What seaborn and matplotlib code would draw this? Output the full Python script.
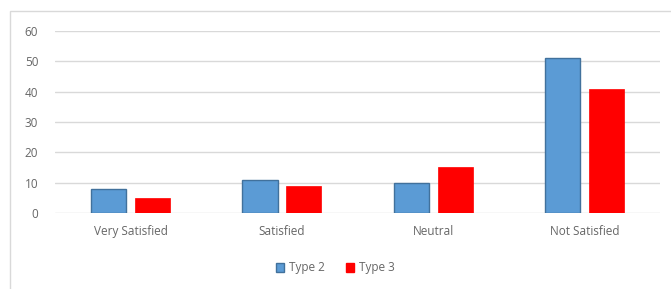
import pandas as pd
import matplotlib.pyplot as plt
import seaborn as sns
from matplotlib.patches import Rectangle, Patch

# --- DATA ---
categories = ["Very Satisfied", "Satisfied", "Neutral", "Not Satisfied"]
type2 = [8, 11, 10, 51]
type3 = [5, 9, 15, 41]
series = ["Type 2", "Type 3"]

df = pd.DataFrame({
    "category": categories * 2,
    "value": type2 + type3,
    "series": [series[0]] * len(categories) + [series[1]] * len(categories),
})

sns.set_style("white")
plt.rcParams["font.family"] = ["Open Sans", "DejaVu Sans"]

fig = plt.figure(figsize=(6.71, 2.89), dpi=100)
ax = fig.add_axes([0.082, 0.263, 0.902, 0.63])

# outer chart frame (only top/left visible in the reference)
fig.patches.append(Rectangle((10 / 671, -0.2), 1.2, 1 - 11 / 289 + 0.2,
                             transform=fig.transFigure, fill=False,
                             edgecolor="#D9D9D9", linewidth=1.0))

palette = {"Type 2": "#5B9BD5", "Type 3": "#FF0000"}
sns.barplot(data=df, x="category", y="value", hue="series", palette=palette,
            width=0.58, gap=0.2, saturation=1, ax=ax, legend=False)

# darker outline on blue bars like the Excel original
for bar, s in zip(ax.patches, df["series"]):
    if s == "Type 2":
        bar.set_edgecolor("#41719C")
        bar.set_linewidth(1.0)
    else:
        bar.set_edgecolor("#FF0000")
        bar.set_linewidth(0.5)

ax.set_ylim(0, 60)
ax.set_yticks(range(0, 61, 10))
ax.set_xlim(-0.5, 3.5)
ax.yaxis.grid(True, color="#D9D9D9", linewidth=1.0)
ax.set_axisbelow(True)
for side in ["top", "right", "left", "bottom"]:
    ax.spines[side].set_visible(False)
ax.set_xlabel("")
ax.set_ylabel("")
ax.tick_params(axis="both", length=0, labelsize=8.5, labelcolor="#666666")
ax.tick_params(axis="y", pad=12)
ax.tick_params(axis="x", pad=9)

handles = [Patch(facecolor="#5B9BD5", edgecolor="#41719C", label="Type 2"),
           Patch(facecolor="#FF0000", edgecolor="#FF0000", label="Type 3")]
leg = fig.legend(handles=handles, loc="center", bbox_to_anchor=(0.5, 1 - 268 / 289),
                 ncol=2, frameon=False, fontsize=8.5, handlelength=0.7,
                 handleheight=0.7, handletextpad=0.4, columnspacing=1.8)
for t in leg.get_texts():
    t.set_color("#666666")

fig.savefig("out.png", dpi=100)
